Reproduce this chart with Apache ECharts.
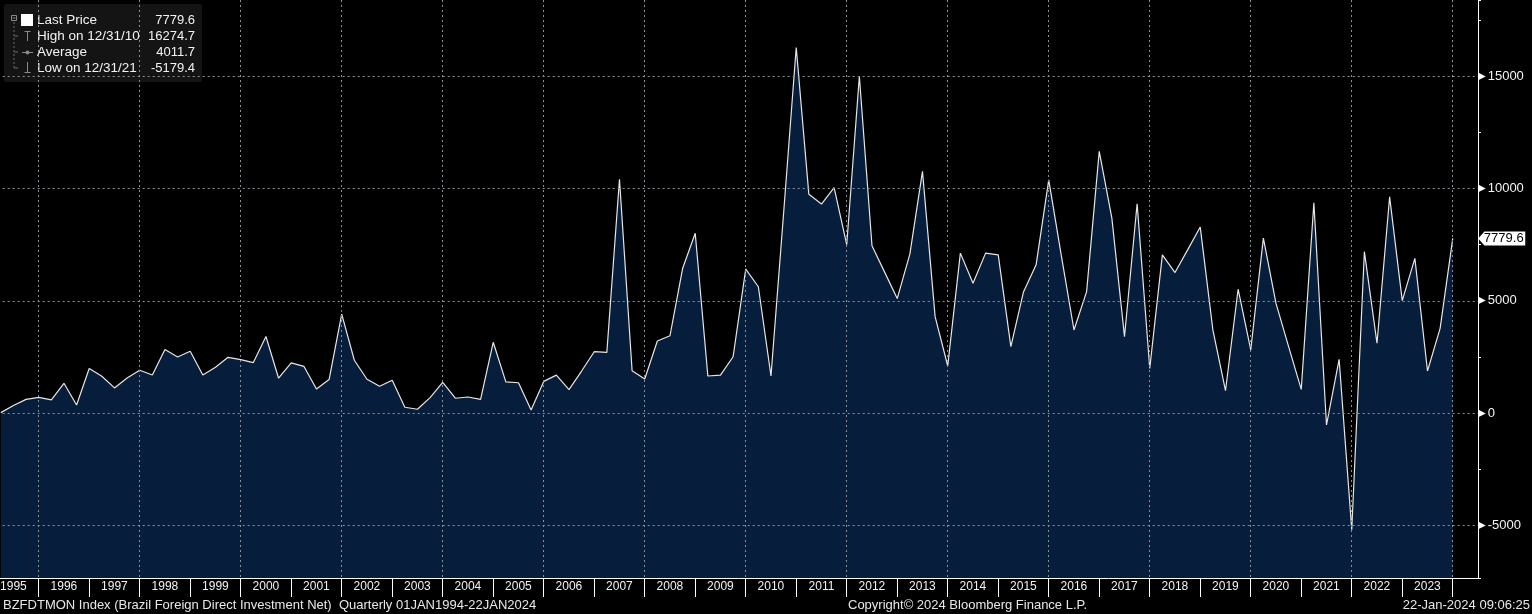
<!DOCTYPE html>
<html><head><meta charset="utf-8">
<script src="https://cdn.jsdelivr.net/npm/echarts@6/dist/echarts.min.js"></script>
<style>html,body{margin:0;padding:0;background:#000}#c{width:1532px;height:614px}</style>
</head><body><div id="c"></div>
<script>
// ---- data ----
const startYear = 1995;
const endYear = 2023;
const quarters = [];
for (let y = startYear; y <= endYear; y++) for (let q = 1; q <= 4; q++) quarters.push(y + 'Q' + q);
const fdiNet = [
  30, 350, 620, 710, 600, 1335, 370, 1990,
  1650, 1130, 1570, 1915, 1705, 2835, 2505, 2760,
  1705, 2050, 2490, 2390, 2255, 3415, 1560, 2240,
  2090, 1080, 1500, 4410, 2360, 1515, 1200, 1470,
  270, 180, 700, 1380, 670, 725, 620, 3160,
  1400, 1360, 145, 1420, 1700, 1050, 1880, 2740,
  2710, 10410, 1895, 1525, 3215, 3450, 6440, 8010,
  1660, 1700, 2515, 6410, 5630, 1660, 8900, 16274.7,
  9740, 9310, 10035, 7500, 14990, 7450, 6280, 5105,
  7080, 10760, 4300, 2105, 7125, 5790, 7125, 7050,
  2965, 5400, 6605, 10380, 7000, 3705, 5415, 11650,
  8680, 3410, 9320, 2000, 7050, 6260, 7270, 8285,
  3710, 1005, 5520, 2820, 7795, 4890, 2965, 1065,
  9365, -520, 2400, -5179.4, 7190, 3115, 9630, 5010,
  6890, 1880, 3780, 7779.6
];
const yearLabels = [];
for (let y = startYear; y <= endYear; y++) yearLabels.push(String(y));
const yMajorTicks = [-5000, 0, 5000, 10000, 15000];
const legendRows = [
  ['Last Price', '7779.6'],
  ['High on 12/31/10', '16274.7'],
  ['Average', '4011.7'],
  ['Low on 12/31/21', '-5179.4']
];
const footerLeft = 'BZFDTMON Index (Brazil Foreign Direct Investment Net)  Quarterly 01JAN1994-22JAN2024';
const footerMid = 'Copyright\u00a9 2024 Bloomberg Finance L.P.';
const footerRight = '22-Jan-2024 09:06:25';

// ---- chart ----
const FONT = '"Liberation Sans", Arial, sans-serif';
const points = quarters.map((q, i) => [parseInt(q.slice(0, 4)) + parseInt(q.slice(5)) / 4, fdiNet[i]]);
const last = points[points.length - 1];
const gridColor = '#8a9098';
const txt = '#f2f2f2';

const legendEls = [];
legendEls.push({type: 'rect', shape: {x: 4, y: 4, width: 198, height: 78, r: 2}, style: {fill: '#141414'}});
legendEls.push({type: 'rect', shape: {x: 11.5, y: 15.5, width: 5, height: 5}, style: {fill: 'none', stroke: '#8a8a8a', lineWidth: 1}});
legendEls.push({type: 'line', shape: {x1: 12.5, y1: 18, x2: 15.5, y2: 18}, style: {stroke: '#8a8a8a', lineWidth: 1}});
legendEls.push({type: 'line', shape: {x1: 14, y1: 22, x2: 14, y2: 68}, style: {stroke: '#6a6a6a', lineWidth: 1, lineDash: [2, 2]}});
[36, 52, 68].forEach(y => legendEls.push({type: 'line', shape: {x1: 14, y1: y, x2: 18, y2: y}, style: {stroke: '#6a6a6a', lineWidth: 1}}));
legendEls.push({type: 'rect', shape: {x: 21, y: 14, width: 12, height: 12}, style: {fill: '#ffffff'}});
legendEls.push({type: 'line', shape: {x1: 27.5, y1: 31, x2: 27.5, y2: 41}, style: {stroke: '#8a8a8a', lineWidth: 1}});
legendEls.push({type: 'line', shape: {x1: 24.5, y1: 31.5, x2: 30.5, y2: 31.5}, style: {stroke: '#8a8a8a', lineWidth: 1}});
legendEls.push({type: 'line', shape: {x1: 22, y1: 52.5, x2: 33, y2: 52.5}, style: {stroke: '#8a8a8a', lineWidth: 1}});
legendEls.push({type: 'circle', shape: {cx: 27.5, cy: 52.5, r: 2}, style: {fill: '#8a8a8a'}});
legendEls.push({type: 'line', shape: {x1: 27.5, y1: 62, x2: 27.5, y2: 72}, style: {stroke: '#8a8a8a', lineWidth: 1}});
legendEls.push({type: 'line', shape: {x1: 24.5, y1: 72.5, x2: 30.5, y2: 72.5}, style: {stroke: '#8a8a8a', lineWidth: 1}});
legendRows.forEach((r, k) => {
  const y = 20 + k * 16;
  legendEls.push({type: 'text', x: 37, y: y, style: {text: r[0], fill: txt, font: '13.5px ' + FONT, textVerticalAlign: 'middle'}});
  legendEls.push({type: 'text', x: 195, y: y, style: {text: r[1], fill: txt, font: '13px ' + FONT, textAlign: 'right', textVerticalAlign: 'middle'}});
});

const footerEls = [
  {type: 'text', x: 3, y: 605, style: {text: footerLeft, fill: '#e8e8e8', font: '13px ' + FONT, textVerticalAlign: 'middle'}},
  {type: 'text', x: 848, y: 605, style: {text: footerMid, fill: '#e8e8e8', font: '13px ' + FONT, textVerticalAlign: 'middle'}},
  {type: 'text', x: 1530, y: 605, style: {text: footerRight, fill: '#e8e8e8', font: '13px ' + FONT, textAlign: 'right', textVerticalAlign: 'middle'}}
];

const yMin = -7326, yMax = 18385;
const option = {
  backgroundColor: '#000000',
  animation: false,
  grid: [
    {left: -62.3, right: 54, top: 0, bottom: 36, containLabel: false, outerBoundsMode: 'none'},
    {left: -11.8, right: 79.3, bottom: 36, height: 1, containLabel: false, outerBoundsMode: 'none'}
  ],
  xAxis: [
    {
      type: 'value', gridIndex: 0, min: 1994, max: 2024.5, interval: 2, z: 5,
      axisLine: {show: true, onZero: false, lineStyle: {color: '#ffffff', width: 1}},
      axisTick: {show: false}, axisLabel: {show: false},
      splitLine: {show: true, showMinLine: false, showMaxLine: false, lineStyle: {color: gridColor, type: [2, 3], width: 1}}
    },
    {
      type: 'category', gridIndex: 1, data: yearLabels, boundaryGap: true, position: 'bottom',
      axisLine: {show: false},
      axisTick: {show: true, interval: 0, length: 19, lineStyle: {color: '#ffffff', width: 1}},
      axisLabel: {show: true, interval: 0, color: txt, fontSize: 12, fontFamily: FONT, margin: 3},
      splitLine: {show: false}
    }
  ],
  yAxis: [
    {
      type: 'value', gridIndex: 0, position: 'right', min: yMin, max: yMax,
      minInterval: 5000, maxInterval: 5000, z: 5,
      axisLine: {show: true, lineStyle: {color: '#ffffff', width: 1}},
      axisTick: {show: false},
      splitLine: {show: true, showMinLine: false, showMaxLine: false, lineStyle: {color: gridColor, type: [2, 3], width: 1}},
      axisLabel: {
        show: true, margin: 0, showMinLabel: false, showMaxLabel: false,
        formatter: v => yMajorTicks.indexOf(v) >= 0 ? '{t|\u25B6}' + v : '',
        color: '#f4f4f4', fontSize: 13, fontFamily: FONT,
        rich: {t: {fontSize: 10, color: '#ffffff', padding: [0, 2, 0, 0], fontFamily: 'DejaVu Sans'}}
      }
    },
    {
      type: 'value', gridIndex: 0, position: 'right', min: yMin, max: yMax,
      minInterval: 2500, maxInterval: 2500,
      axisLine: {show: false},
      axisTick: {show: true, length: 3, lineStyle: {color: '#ffffff', width: 1}},
      axisLabel: {show: false}, splitLine: {show: false}
    },
    {type: 'value', gridIndex: 1, show: false}
  ],
  series: [{
    type: 'line', xAxisIndex: 0, yAxisIndex: 0,
    data: points, symbol: 'none', z: 2,
    lineStyle: {color: '#e6e6e6', width: 1.2},
    areaStyle: {color: '#061e3b', opacity: 1, origin: 'start'},
    markPoint: {
      symbol: 'path://M0,7L6,0L46,0L46,14L6,14Z',
      symbolSize: [47, 14], symbolKeepAspect: false,
      symbolOffset: [49, 0],
      itemStyle: {color: '#ffffff'},
      label: {show: true, position: 'inside', color: '#000000', fontSize: 13, fontFamily: FONT, offset: [2, 0],
        formatter: p => String(p.value)},
      data: [{coord: last, value: last[1]}]
    }
  }],
  graphic: legendEls.concat(footerEls)
};
const chart = echarts.init(document.getElementById('c'));
chart.setOption(option);
</script></body></html>
